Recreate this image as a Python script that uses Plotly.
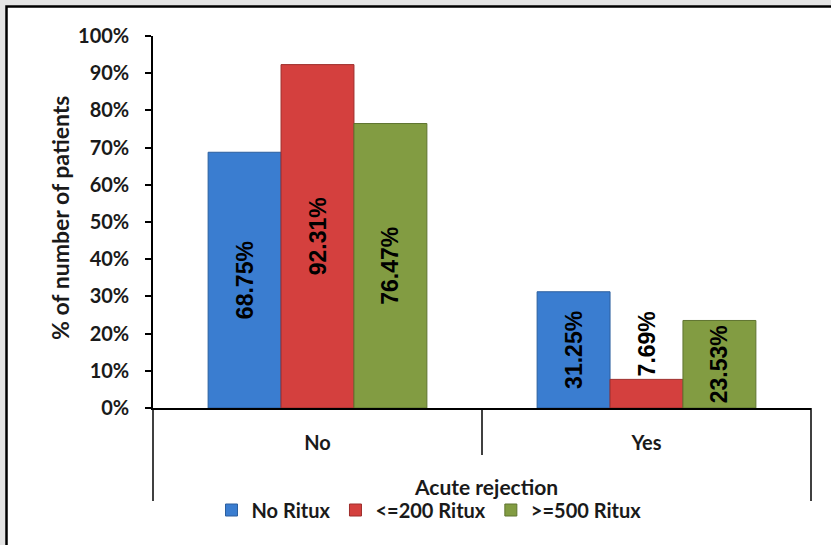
import plotly.graph_objects as go

# Share of patients by acute rejection status and rituximab dose
categories = ["No", "Yes"]
series_names = ["No Ritux", "<=200 Ritux", ">=500 Ritux"]
no_ritux = [68.75, 31.25]
low_ritux = [92.31, 7.69]
high_ritux = [76.47, 23.53]
y_ticks = [0, 10, 20, 30, 40, 50, 60, 70, 80, 90, 100]
y_tick_labels = [f"{v}%" for v in y_ticks]

colors = ["#3a7dd0", "#d4403e", "#829c42"]
edge_colors = ["#2c5f9e", "#9e2e2c", "#5f7430"]
label_positions = [["inside", "inside"], ["inside", "outside"], ["inside", "inside"]]

# plot-area geometry in pixels, used to place the frame, titles and divider lines
W, H = 831, 545
L, R, T, B = 153, 811, 36, 408


def px_x(p):
    return (p - L) / (R - L)


def px_y(p):
    return (B - p) / (B - T)


TEXT = "#1a1a1a"

fig = go.Figure()
for name, vals, col, edge, pos in zip(series_names, [no_ritux, low_ritux, high_ritux],
                                      colors, edge_colors, label_positions):
    fig.add_trace(go.Bar(
        name=name,
        x=categories,
        y=vals,
        marker=dict(color=col, line=dict(color=edge, width=1)),
        text=[f"{v:.2f}%" for v in vals],
        textposition=pos,
        insidetextanchor="middle",
        textangle=-90,
        constraintext="none",
        textfont=dict(family="Liberation Sans", size=23, color="black", weight="bold"),
        cliponaxis=False,
    ))

shapes = [
    # outer chart frame
    dict(type="rect", xref="paper", yref="paper",
         x0=px_x(6.5), x1=px_x(W + 20), y0=px_y(W + 40), y1=px_y(6.5),
         fillcolor="white", line=dict(color="black", width=2.5), layer="below"),
    # category divider lines below the x axis
    dict(type="line", xref="paper", yref="paper",
         x0=0, x1=0, y0=px_y(B), y1=px_y(501), line=dict(color="black", width=1.5)),
    dict(type="line", xref="paper", yref="paper",
         x0=0.5, x1=0.5, y0=px_y(B), y1=px_y(455), line=dict(color="black", width=1.5)),
    dict(type="line", xref="paper", yref="paper",
         x0=1, x1=1, y0=px_y(B), y1=px_y(501), line=dict(color="black", width=1.5)),
]

fig.update_layout(
    width=W, height=H,
    margin=dict(l=L, r=W - R, t=T, b=H - B),
    paper_bgcolor="#e4e4e4",
    plot_bgcolor="white",
    barmode="group",
    bargap=0.335,
    bargroupgap=0,
    font=dict(family="Lato", color=TEXT),
    shapes=shapes,
    showlegend=True,
    legend=dict(
        orientation="h", x=px_x(429), xanchor="center", y=px_y(510), yanchor="middle",
        font=dict(family="Lato", size=20, weight="bold", color=TEXT),
        bgcolor="rgba(0,0,0,0)", itemwidth=30, tracegroupgap=0,
    ),
    annotations=[
        dict(text="Acute rejection", xref="paper", yref="paper",
             x=px_x(486), y=px_y(486), xanchor="center", yanchor="middle", showarrow=False,
             font=dict(family="Lato", size=21, weight="bold", color=TEXT)),
        dict(text="% of number of patients", xref="paper", yref="paper",
             x=px_x(60), y=px_y(218), xanchor="center", yanchor="middle",
             textangle=-90, showarrow=False,
             font=dict(family="Lato", size=23, weight="bold", color=TEXT)),
    ],
    xaxis=dict(
        showline=True, linecolor="black", linewidth=1.5,
        ticks="", showgrid=False,
        tickfont=dict(family="Lato", size=20, weight="bold", color=TEXT),
        ticklabelstandoff=16,
    ),
    yaxis=dict(
        range=[0, 100],
        tickvals=y_ticks, ticktext=y_tick_labels,
        showline=True, linecolor="black", linewidth=1.5,
        ticks="outside", ticklen=6, tickcolor="black", tickwidth=1.5,
        showgrid=False, zeroline=False,
        tickfont=dict(family="Lato", size=20, weight="bold", color=TEXT),
        ticklabelstandoff=12,
    ),
)

fig.write_html("out.html")
